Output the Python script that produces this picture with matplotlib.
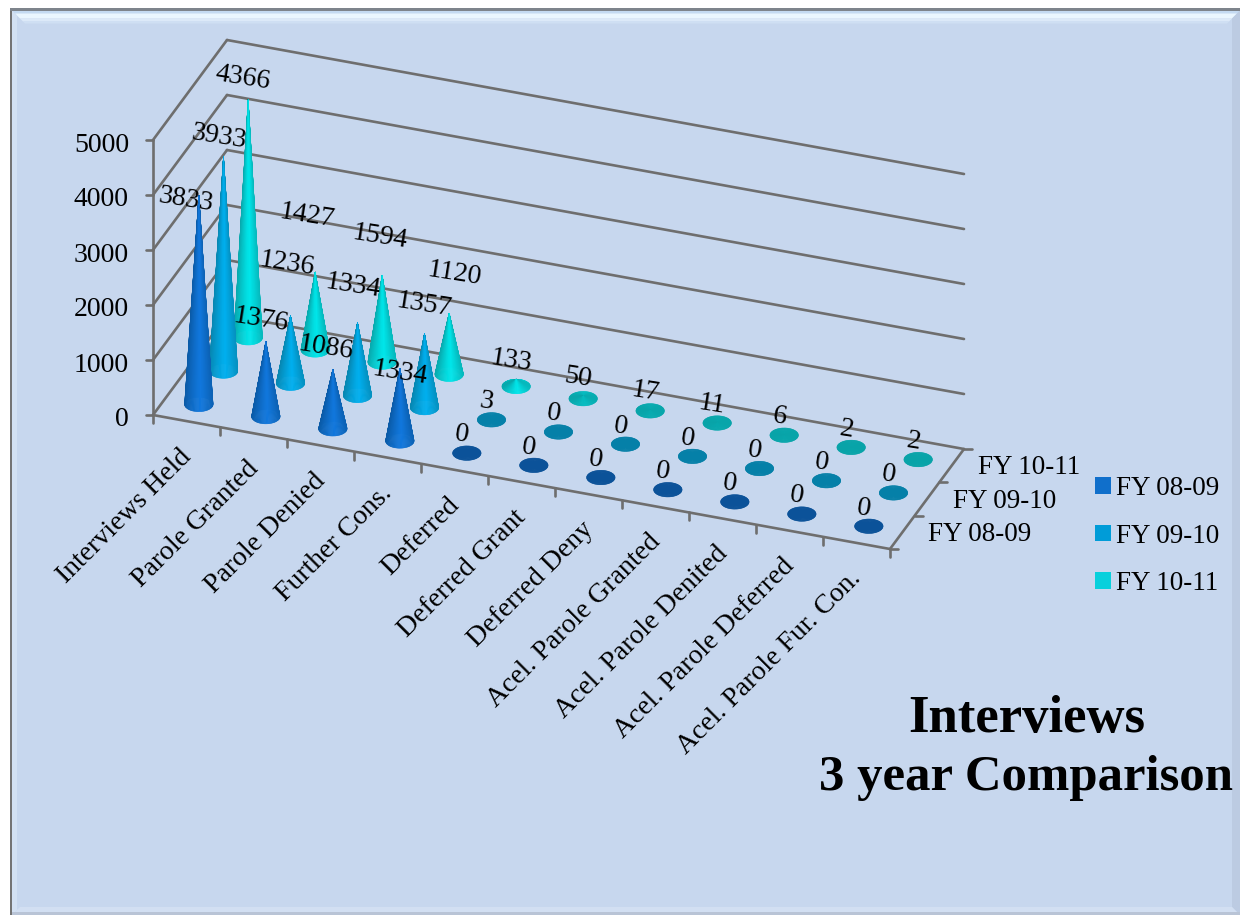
import numpy as np
import matplotlib
matplotlib.use("Agg")
import matplotlib.pyplot as plt
from matplotlib.collections import PolyCollection
from matplotlib.patches import Patch, Polygon, Rectangle

categories = ["Interviews Held", "Parole Granted", "Parole Denied", "Further Cons.",
              "Deferred", "Deferred Grant", "Deferred Deny", "Acel. Parole Granted",
              "Acel. Parole Denited", "Acel. Parole Deferred", "Acel. Parole Fur. Con."]
series_names = ["FY 08-09", "FY 09-10", "FY 10-11"]
fy0809 = [3833, 1376, 1086, 1334, 0, 0, 0, 0, 0, 0, 0]
fy0910 = [3933, 1236, 1334, 1357, 3, 0, 0, 0, 0, 0, 0]
fy1011 = [4366, 1427, 1594, 1120, 133, 50, 17, 11, 6, 2, 2]
value_ticks = [0, 1000, 2000, 3000, 4000, 5000]

series = [fy0809, fy0910, fy1011]
legend_cols = ["#106FCB", "#009CD8", "#08D0DC"]
flat_cols = ["#0B5299", "#0580A8", "#08A3A8"]
edge_cols = ["#0A5AA6", "#0786B0", "#08A8AC"]
mid_cols = ["#1178DE", "#00B0F0", "#00E8EC"]
GRID = "#6E6E6E"
BG = "#C7D7EE"
FONT = "Liberation Serif"
FS = 20

# oblique projection of the 3-D box into figure pixels
ORIGIN = np.array([153.0, 415.0])
WIDTH = np.array([737.0, 134.0])
DEPTH = np.array([74.0, -100.0])
PX_PER_UNIT = 0.055
n_cat, n_ser = len(categories), len(series)


def floor(c, s):
    return ORIGIN + WIDTH * c / n_cat + DEPTH * s / n_ser


def rgb(h):
    return np.array(matplotlib.colors.to_rgb(h))


fig = plt.figure(figsize=(12.4, 9.15), dpi=100, facecolor="white")
ax = fig.add_axes([0, 0, 1, 1])
ax.set_xlim(0, 1240)
ax.set_ylim(915, 0)
ax.axis("off")

# chart area with bevelled frame
L, T, R, B = 12.0, 10.5, 1240.0, 915.0
ax.add_patch(Rectangle((L, T), R - L, B - T, fc=BG, ec="none", zorder=0))
# top bevel: bands narrowing with a mitred end at each corner
for d0, d1, col in [(0, 3, "#C4DAF2"), (3, 8, "#EAF6FF"), (8, 11, "#DCE9F8"), (11, 13, "#CFDFF3")]:
    ax.add_patch(Polygon([(L + d0, T + d0), (R - d0, T + d0), (R - d1, T + d1), (L + d1, T + d1)],
                         fc=col, ec="none", zorder=0.1))
# left, right and bottom bevels
ax.add_patch(Polygon([(L, T), (L + 5, T + 5), (L + 5, B - 5), (L, B)], fc="#D3E1F3", ec="none", zorder=0.1))
ax.add_patch(Polygon([(R, T), (R - 8, T + 8), (R - 8, B - 8), (R, B)], fc="#BCCBE2", ec="none", zorder=0.1))
ax.add_patch(Polygon([(L, B), (L + 8, B - 8), (R - 8, B - 8), (R, B)], fc="#D2DFF2", ec="none", zorder=0.1))
ax.add_patch(Rectangle((L, B - 3), R - L, 3, fc="#B9C4D6", ec="none", zorder=0.15))
ax.add_patch(Rectangle((9.5, 8), 2.5, B - 8, fc="#747474", ec="none", zorder=0.2))
ax.add_patch(Rectangle((9.5, 8), R - 9.5, 2.5, fc="#7E848C", ec="none", zorder=0.2))

line_kw = dict(color=GRID, lw=1.9, zorder=1, solid_capstyle="round")


def seg(a, b, **kw):
    ax.plot([a[0], b[0]], [a[1], b[1]], **{**line_kw, **kw})


# gridlines on side and back walls
for v in value_ticks:
    up = np.array([0, -v * PX_PER_UNIT])
    seg(floor(0, 0) + up, floor(0, n_ser) + up)
    seg(floor(0, n_ser) + up, floor(n_cat, n_ser) + up)
    seg(floor(0, 0) + up, floor(0, 0) + up + np.array([-7, 0]))
    ax.text(129, 415 - v * PX_PER_UNIT + 5, str(v), ha="right", va="center",
            family=FONT, fontsize=FS, color="black", zorder=10)

# box edges
seg(floor(0, 0), floor(0, 0) + np.array([0, -max(value_ticks) * PX_PER_UNIT]))
seg(floor(0, 0), floor(n_cat, 0))
seg(floor(n_cat, 0), floor(n_cat, n_ser))
for c in range(n_cat + 1):
    p = floor(c, 0)
    seg(p, p + np.array([0, 8]))
for s in range(n_ser + 1):
    p = floor(n_cat, s)
    seg(p, p + np.array([8, 0]))


def cone(cx, cy, h, idx, rx=14.2, ry=7.2, z=2):
    theta = np.linspace(0, 2 * np.pi, 73)
    ex = cx + rx * np.cos(theta)
    ey = cy + ry * np.sin(theta)
    apex = (cx, cy - h)
    mix = min(1.0, h / 7.3)
    flat, edge, mid = rgb(flat_cols[idx]), rgb(edge_cols[idx]), rgb(mid_cols[idx])
    polys, cols = [], []
    order = np.argsort(np.sin(theta[:-1] + np.pi / 72))
    for k in order:
        polys.append([apex, (ex[k], ey[k]), (ex[k + 1], ey[k + 1])])
        u = 0.5 * (1 + np.cos(theta[k] + np.pi / 72))
        t = np.clip(1 - abs(u - 0.55) / 0.55, 0, 1) ** 0.8
        shaded = edge + (mid - edge) * t
        cols.append(flat + (shaded - flat) * mix)
    ax.add_collection(PolyCollection(polys, facecolors=cols, edgecolors=cols,
                                     linewidths=0.4, zorder=z))


# cones, back row first
for s in range(n_ser - 1, -1, -1):
    for c in range(n_cat):
        base = floor(c + 0.5, s + 0.5)
        cone(base[0], base[1], series[s][c] * PX_PER_UNIT * 0.99, s, z=2 + (n_ser - s) * 0.1)

# label offsets from cone tip for the labels that sit away from their tips
default_offset = (-5, -19)
label_offsets = {
    (0, 0): (-13, 3), (1, 0): (-5, -23), (2, 0): (-7, -23), (3, 0): (0, 4),
    (0, 1): (-5, -21), (1, 1): (-3, -53), (2, 1): (-5, -38), (3, 1): (0, -30),
    (0, 2): (-5, -23), (1, 2): (-8, -57), (2, 2): (-2, -39), (3, 2): (5, -40),
}
for s in range(n_ser):
    for c in range(n_cat):
        v = series[s][c]
        base = floor(c + 0.5, s + 0.5)
        tip = base - np.array([0, v * PX_PER_UNIT * 0.99])
        off = label_offsets.get((c, s), default_offset)
        ax.text(tip[0] + off[0], tip[1] + off[1] + 1, str(v), ha="center", va="center",
                rotation=-9, rotation_mode="anchor", family=FONT, fontsize=FS,
                color="black", zorder=10)

# category labels
for c, name in enumerate(categories):
    p = floor(c + 0.5, 0)
    ax.text(p[0] - 8, p[1] + 23, name, ha="right", va="top", rotation=45,
            rotation_mode="anchor", family=FONT, fontsize=FS, color="black", zorder=10)

# series labels on the depth axis
for s, name in enumerate(series_names):
    p = floor(n_cat, s + 0.5)
    ax.text(p[0] + 26, p[1] + 2, name, ha="left", va="center", family=FONT,
            fontsize=19.5, color="black", zorder=10)

handles = [Patch(fc=col, ec="none", label=n) for col, n in zip(legend_cols, series_names)]
ax.legend(handles=handles, loc="upper left", bbox_to_anchor=(1071, 452),
          bbox_transform=ax.transData, frameon=False, prop=dict(family=FONT, size=19.5),
          handlelength=0.58, handleheight=0.58, handletextpad=0.2, labelspacing=0.82)

ax.text(1027, 719, "Interviews", ha="center", va="center", family=FONT,
        fontweight="bold", fontsize=38, color="black", zorder=10)
ax.text(1026, 778, "3 year Comparison", ha="center", va="center", family=FONT,
        fontweight="bold", fontsize=36.5, color="black", zorder=10)

fig.savefig("out.png", dpi=100)
